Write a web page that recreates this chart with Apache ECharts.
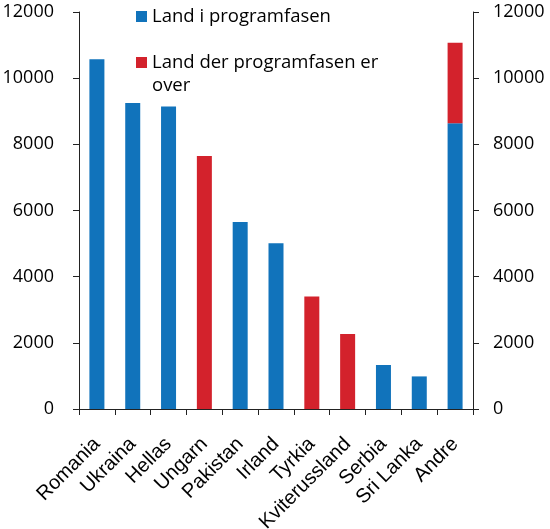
<!DOCTYPE html>
<html>
<head>
<meta charset="utf-8">
<script src="https://cdn.jsdelivr.net/npm/echarts@6/dist/echarts.min.js"></script>
<style>
  html, body { margin: 0; padding: 0; background: #fff; }
  #chart { width: 550px; height: 529px; }
</style>
</head>
<body>
<div id="chart"></div>
<script>
// land og antall
var countries = ['Romania', 'Ukraina', 'Hellas', 'Ungarn', 'Pakistan', 'Irland', 'Tyrkia', 'Kviterussland', 'Serbia', 'Sri Lanka', 'Andre'];
var inProgram = [10570, 9250, 9140, 0, 5650, 5010, 0, 0, 1330, 985, 8640];
var programOver = [0, 0, 0, 7650, 0, 0, 3400, 2270, 0, 0, 2430];
var yTicks = [0, 2000, 4000, 6000, 8000, 10000, 12000];

var blue = '#1173bb';
var red = '#d3222c';
var numFont = '"Open Sans", sans-serif';

var chart = echarts.init(document.getElementById('chart'));

function yAxis(pos) {
    return {
        type: 'value',
        position: pos,
        min: yTicks[0],
        max: yTicks[yTicks.length - 1],
        interval: yTicks[1] - yTicks[0],
        splitLine: { show: false },
        axisLine: { show: true, lineStyle: { color: '#222', width: 1 } },
        axisTick: { show: true, length: 6, lineStyle: { color: '#222' } },
        axisLabel: {
            margin: pos === 'left' ? 25 : 20,
            color: '#000',
            fontFamily: numFont,
            fontSize: 18,
            formatter: function (v) { return String(v); }
        }
    };
}

var legendText = { fontFamily: numFont, fontSize: 18.5, color: '#000', lineHeight: 23 };

chart.setOption({
    animation: false,
    grid: { left: 79, right: 77, top: 12, bottom: 120, outerBoundsMode: 'none', containLabel: false },
    legend: [{
        data: ['Land i programfasen'],
        left: 136, top: 5, padding: 0,
        itemWidth: 11, itemHeight: 11, itemGap: 0,
        icon: 'rect',
        textStyle: legendText
    }, {
        data: ['Land der programfasen er'],
        left: 136, top: 28, padding: 0,
        itemWidth: 11, itemHeight: 11,
        icon: 'rect',
        // tom første linje så ikonet står ved første tekstlinje
        formatter: function (name) { return '\n' + name + '\nover'; },
        textStyle: legendText
    }],
    xAxis: {
        type: 'category',
        data: countries,
        axisLine: { lineStyle: { color: '#222' } },
        axisTick: { show: true, length: 6, lineStyle: { color: '#222' } },
        axisLabel: {
            interval: 0,
            rotate: 45,
            margin: 32,
            color: '#000',
            fontFamily: '"Liberation Sans", Arial, sans-serif',
            fontSize: 20
        }
    },
    yAxis: [yAxis('left'), yAxis('right')],
    series: [{
        name: 'Land i programfasen',
        type: 'bar',
        stack: 'tot',
        barWidth: 15,
        itemStyle: { color: blue },
        data: inProgram
    }, {
        name: 'Land der programfasen er',
        type: 'bar',
        stack: 'tot',
        barWidth: 15,
        itemStyle: { color: red },
        data: programOver
    }]
});
</script>
</body>
</html>
